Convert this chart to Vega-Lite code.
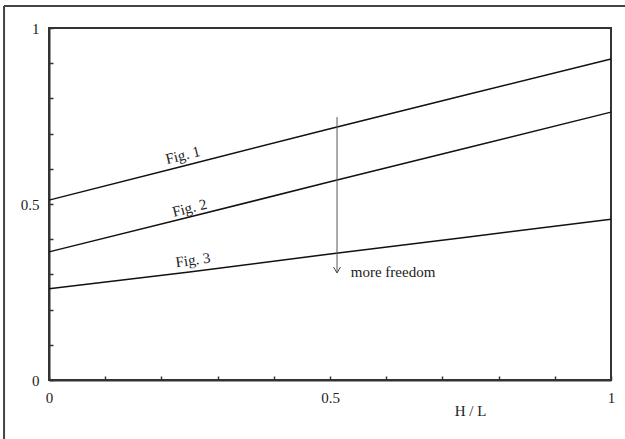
{
  "$schema": "https://vega.github.io/schema/vega-lite/v6.json",
  "width": 562,
  "height": 352,
  "autosize": {"type": "none"},
  "padding": {"left": 49, "top": 28, "right": 14, "bottom": 59},
  "background": "white",
  "config": {"view": {"stroke": "#333", "strokeWidth": 2}, "font": "Liberation Serif"},
  "datasets": {
    "curves": [
      {"fig": "Fig. 1", "hl": 0, "v": 0.511}, {"fig": "Fig. 1", "hl": 0.25, "v": 0.612}, {"fig": "Fig. 1", "hl": 0.5, "v": 0.714}, {"fig": "Fig. 1", "hl": 0.75, "v": 0.813}, {"fig": "Fig. 1", "hl": 1, "v": 0.912},
      {"fig": "Fig. 2", "hl": 0, "v": 0.364}, {"fig": "Fig. 2", "hl": 0.25, "v": 0.463}, {"fig": "Fig. 2", "hl": 0.5, "v": 0.563}, {"fig": "Fig. 2", "hl": 0.75, "v": 0.662}, {"fig": "Fig. 2", "hl": 1, "v": 0.761},
      {"fig": "Fig. 3", "hl": 0, "v": 0.259}, {"fig": "Fig. 3", "hl": 0.25, "v": 0.307}, {"fig": "Fig. 3", "hl": 0.5, "v": 0.358}, {"fig": "Fig. 3", "hl": 0.75, "v": 0.407}, {"fig": "Fig. 3", "hl": 1, "v": 0.457}
    ],
    "labels": [
      {"text": "Fig. 1", "hl": 0.238, "v": 0.639},
      {"text": "Fig. 2", "hl": 0.25, "v": 0.489},
      {"text": "Fig. 3", "hl": 0.256, "v": 0.341},
      {"text": "more freedom", "hl": 0.537, "v": 0.307}
    ],
    "arrow": [{"hl": 0.5125, "v": 0.747, "v2": 0.306}],
    "arrowtip": [{"hl": 0.5125, "v": 0.304}],
    "frame": [
      {"hl": -0.08, "hl2": -0.08, "v": 1.0625, "v2": -0.3},
      {"hl": -0.08, "hl2": 1.1, "v": 1.0625, "v2": 1.0625}
    ]
  },
  "encoding": {
    "x": {
      "field": "hl", "type": "quantitative",
      "scale": {"domain": [0, 1], "nice": false},
      "axis": {
        "values": [0, 0.1, 0.2, 0.3, 0.4, 0.5, 0.6, 0.7, 0.8, 0.9, 1],
        "labelExpr": "abs(datum.value) < 1e-6 ? '0' : abs(datum.value - 0.5) < 1e-6 ? '0.5' : abs(datum.value - 1) < 1e-6 ? '1' : ''",
        "grid": false, "tickSize": -4, "tickWidth": 1.5, "tickColor": "#333",
        "domainColor": "#333", "domainWidth": 2,
        "labelFont": "Liberation Serif", "labelFontSize": 15, "labelColor": "#222", "labelPadding": 14,
        "labelFlush": false,
        "title": "H / L", "titleFont": "Liberation Serif", "titleFontSize": 15, "titleFontWeight": "normal", "titleColor": "#222",
        "titleX": 421, "titleY": 30, "titleAlign": "center", "titleBaseline": "middle"
      }
    },
    "y": {
      "field": "v", "type": "quantitative",
      "scale": {"domain": [0, 1], "nice": false},
      "axis": {
        "values": [0, 0.1, 0.2, 0.3, 0.4, 0.5, 0.6, 0.7, 0.8, 0.9, 1],
        "labelExpr": "abs(datum.value) < 1e-6 ? '0' : abs(datum.value - 0.5) < 1e-6 ? '0.5' : abs(datum.value - 1) < 1e-6 ? '1' : ''",
        "grid": false, "tickSize": -4, "tickWidth": 1.5, "tickColor": "#333",
        "domainColor": "#333", "domainWidth": 2,
        "labelFont": "Liberation Serif", "labelFontSize": 15, "labelColor": "#222", "labelPadding": 14,
        "labelFlush": false,
        "title": null
      }
    }
  },
  "layer": [
    {
      "data": {"name": "curves"},
      "mark": {"type": "line", "color": "#111", "strokeWidth": 1.5},
      "encoding": {"detail": {"field": "fig"}}
    },
    {
      "data": {"name": "labels"},
      "transform": [{"filter": "datum.text == 'Fig. 1' || datum.text == 'Fig. 2'"}],
      "mark": {"type": "text", "angle": -14, "align": "center", "baseline": "middle", "font": "Liberation Serif", "fontSize": 15, "color": "#222"},
      "encoding": {"text": {"field": "text"}}
    },
    {
      "data": {"name": "labels"},
      "transform": [{"filter": "datum.text == 'Fig. 3'"}],
      "mark": {"type": "text", "angle": -8, "align": "center", "baseline": "middle", "font": "Liberation Serif", "fontSize": 15, "color": "#222"},
      "encoding": {"text": {"field": "text"}}
    },
    {
      "data": {"name": "labels"},
      "transform": [{"filter": "datum.text == 'more freedom'"}],
      "mark": {"type": "text", "align": "left", "baseline": "middle", "font": "Liberation Serif", "fontSize": 15, "color": "#222"},
      "encoding": {"text": {"field": "text"}}
    },
    {
      "data": {"name": "arrow"},
      "mark": {"type": "rule", "color": "#555", "strokeWidth": 1},
      "encoding": {"y2": {"field": "v2"}}
    },
    {
      "data": {"name": "arrowtip"},
      "mark": {"type": "point", "shape": "M-1,-1.7L0,0L1,-1.7", "filled": false, "stroke": "#444", "strokeWidth": 1, "size": 49, "opacity": 1},
      "encoding": {}
    },
    {
      "data": {"name": "frame"},
      "mark": {"type": "rule", "color": "#444", "strokeWidth": 2, "clip": false},
      "encoding": {"x2": {"field": "hl2"}, "y2": {"field": "v2"}}
    }
  ]
}
